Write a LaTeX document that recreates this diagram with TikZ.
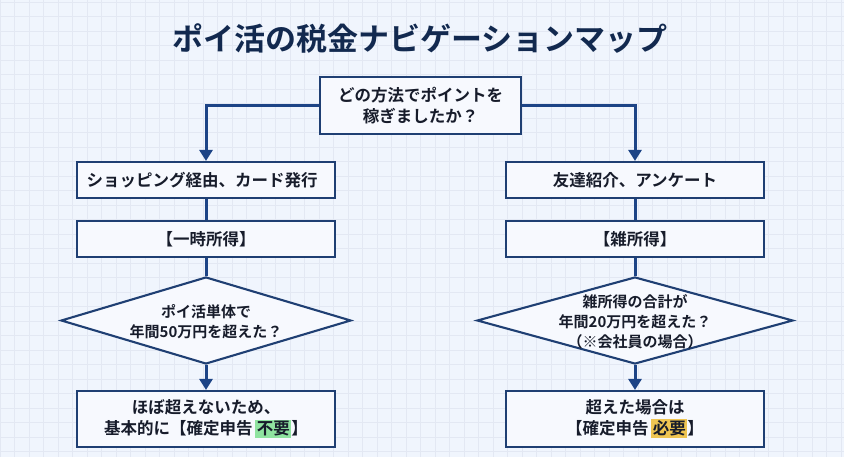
\documentclass[tikz,border=0pt]{standalone}
\usepackage{fontspec}
\setmainfont{Noto Sans CJK JP}[BoldFont={Noto Sans CJK JP Bold}]
\usetikzlibrary{shapes.geometric,arrows.meta,calc}
\definecolor{bgc}{HTML}{F0F5FD}
\definecolor{gridc}{HTML}{E3E8F3}
\definecolor{linec}{HTML}{1F3F73}
\definecolor{arrc}{HTML}{1D4486}
\definecolor{titlec}{HTML}{12294F}
\definecolor{txtc}{HTML}{171C2B}
\definecolor{boxc}{HTML}{F7F9FE}
\definecolor{okc}{HTML}{8FE3A0}
\definecolor{ngc}{HTML}{EFC552}
\newcommand{\hl}[2]{{\setlength{\fboxsep}{1.5pt}\colorbox{#1}{#2}}}
\tikzset{
 x=1pt,y=-1pt,
 flowbox/.style={draw=linec,line width=2.1pt,fill=boxc,minimum width=258pt,inner sep=0pt,align=center,text=txtc,font=\fontsize{16.5}{21}\selectfont\bfseries},
 dia/.style={draw=linec,line width=2.1pt,fill=boxc,shape=diamond,inner sep=0pt},
 dtext/.style={align=center,text=txtc,inner sep=0pt,font=\fontsize{15}{20}\selectfont\bfseries},
 link/.style={draw=arrc,line width=3pt},
 arrowlink/.style={link,-{Triangle[length=11pt,width=13pt]}}
}
\begin{document}
\begin{tikzpicture}
\useasboundingbox (0,0) rectangle (844,457);
\fill[bgc] (0,0) rectangle (844,457);
\foreach \gk in {0,...,58}{\draw[gridc,line width=0.8pt] (14.5*\gk,0) -- (14.5*\gk,457);}
\foreach \gk in {0,...,31}{\draw[gridc,line width=0.8pt] (0,2+14.5*\gk) -- (844,2+14.5*\gk);}
\node[text=titlec,font=\fontsize{31}{36}\selectfont\bfseries,inner sep=0pt] (title) at (420,39) {ポイ活の税金ナビゲーションマップ};
\node[flowbox,minimum width=201pt,minimum height=57pt] (top) at (420.5,105.5) {どの方法でポイントを\\稼ぎましたか？};
\node[flowbox,minimum height=36pt] (l1) at (206,180) {\hspace{-8pt}ショッピング経由、カード発行};
\node[flowbox,minimum height=36pt] (l2) at (206,239) {【一時所得】};
\node[dia,minimum width=290pt,minimum height=87pt,shape aspect=3.33] (ld) at (206,320.5) {};
\node[dtext] (ldt) at (206,321.5) {ポイ活単体で\\年間50万円を超えた？};
\node[flowbox,minimum height=56pt] (l3) at (206,419) {ほぼ超えないため、\\基本的に【確定申告\,\hl{okc}{不要}】};
\node[flowbox,minimum height=36pt] (r1) at (635,180) {友達紹介、アンケート};
\node[flowbox,minimum height=36pt] (r2) at (635,239) {【雑所得】};
\node[dia,minimum width=316pt,minimum height=87pt,shape aspect=3.63] (rd) at (635,320.5) {};
\node[dtext] (rdt) at (635,321.5) {雑所得の合計が\\年間20万円を超えた？\\（※会社員の場合）};
\node[flowbox,minimum height=56pt] (r3) at (635,419) {超えた場合は\\【確定申告\,\hl{ngc}{必要}】};
\draw[arrowlink] (top.west) -| (l1.north);
\draw[arrowlink] (top.east) -| (r1.north);
\draw[link] (l1) -- (l2);
\draw[link] (r1) -- (r2);
\draw[link] (l2) -- (ld.north);
\draw[link] (r2) -- (rd.north);
\draw[arrowlink] (ld.south) -- (l3.north);
\draw[arrowlink] (rd.south) -- (r3.north);
\end{tikzpicture}
\end{document}
